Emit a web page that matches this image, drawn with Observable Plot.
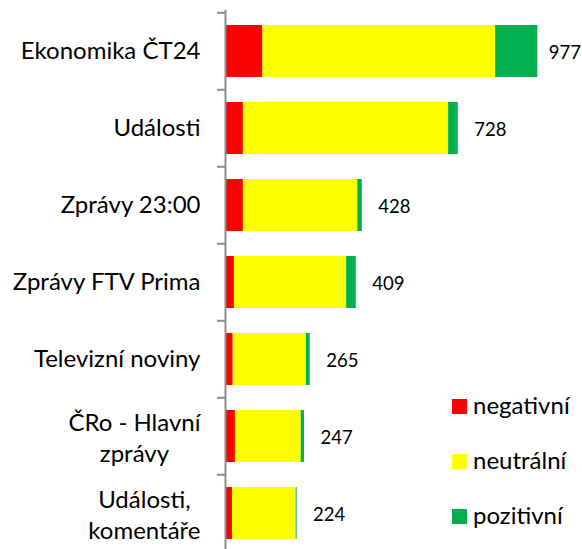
<!DOCTYPE html>
<html>
<head>
<meta charset="utf-8">
<script src="https://cdn.jsdelivr.net/npm/d3@7"></script>
<script src="https://cdn.jsdelivr.net/npm/@observablehq/plot@0.6"></script>
<style>
  html, body { margin: 0; padding: 0; background: #fff; }
  #chart { position: relative; width: 582px; height: 549px; overflow: hidden; }
</style>
</head>
<body>
<div id="chart"></div>
<script>
const categories = ["Ekonomika ČT24", "Události", "Zprávy 23:00", "Zprávy FTV Prima", "Televizní noviny", "ČRo - Hlavní\nzprávy", "Události,\nkomentáře"];
const negativni = [117, 56, 56, 28, 24, 31, 22];
const neutralni = [728, 642, 358, 351, 229, 206, 199];
const pozitivni = [132, 30, 14, 30, 12, 10, 3];
const totals = [977, 728, 428, 409, 265, 247, 224];
const seriesNames = ["negativní", "neutrální", "pozitivní"];
const seriesColors = ["#FF0000", "#FFFF00", "#00B050"];

const FONT = "Lato, 'Open Sans', sans-serif";
const seriesValues = [negativni, neutralni, pozitivni];
const rows = [];
categories.forEach((c, i) => {
  seriesNames.forEach((s, k) => rows.push({category: c, series: s, value: seriesValues[k][i]}));
});
const totalRows = categories.map((c, i) => ({category: c, total: totals[i]}));

// measure widths for centered multi-line labels
const ctx = document.createElement("canvas").getContext("2d");
ctx.font = "24px Lato";
const labelMarks = categories.map(c => {
  const lines = c.split("\n");
  if (lines.length === 1) {
    return Plot.text([c], {x: () => 0, y: d => d, text: d => d, textAnchor: "end", dx: -25,
      fontSize: 24, fontFamily: FONT, fill: "#000"});
  }
  const w = Math.max(...lines.map(l => ctx.measureText(l).width));
  return Plot.text([c], {x: () => 0, y: d => d, text: d => d, textAnchor: "middle", dx: -25 - w / 2,
    fontSize: 24, fontFamily: FONT, fill: "#000", lineHeight: 1.3});
});

const maxTotal = d3.max(totals);
const plot = Plot.plot({
  width: 582,
  height: 549,
  marginTop: 10,
  marginBottom: 0,
  marginLeft: 0,
  marginRight: 0,
  x: {domain: [0, 977], range: [225, 537.3], axis: null},
  y: {domain: categories, range: [11, 553.15], paddingInner: 0.323, paddingOuter: 0.1615, axis: null},
  color: {domain: seriesNames, range: seriesColors},
  style: {background: "#fff"},
  marks: [
    Plot.barX(rows, Plot.stackX({x: "value", y: "category", fill: "series"})),
    Plot.ruleX([0], {stroke: "#8c8c8c", strokeWidth: 2}),
    Plot.ruleY(categories, {y: d => d, x1: -25, x2: 0, dy: -38.72, stroke: "#8c8c8c", strokeWidth: 2}),
    ...labelMarks,
    Plot.text(totalRows.filter(d => d.total < maxTotal), {x: "total", y: "category", text: d => String(d.total),
      textAnchor: "start", dx: 16, dy: 1.5, fontSize: 18.5, fontFamily: FONT, fill: "#000"}),
    Plot.text(totalRows.filter(d => d.total === maxTotal), {x: "total", y: "category", text: d => String(d.total),
      textAnchor: "start", dx: 11, dy: 1.5, fontSize: 18.5, fontFamily: FONT, fill: "#000"})
  ]
});
document.getElementById("chart").appendChild(plot);

// legend inside the plot area
const svg = d3.select(plot);
const lg = svg.append("g").attr("font-family", FONT).attr("font-size", 24).attr("text-anchor", "start");
seriesNames.forEach((s, i) => {
  lg.append("rect").attr("x", 452).attr("y", 399 + i * 55).attr("width", 15).attr("height", 15).attr("fill", seriesColors[i]);
  lg.append("text").attr("x", 473).attr("y", 414 + i * 55).attr("fill", "#000").text(s);
});
</script>
</body>
</html>
